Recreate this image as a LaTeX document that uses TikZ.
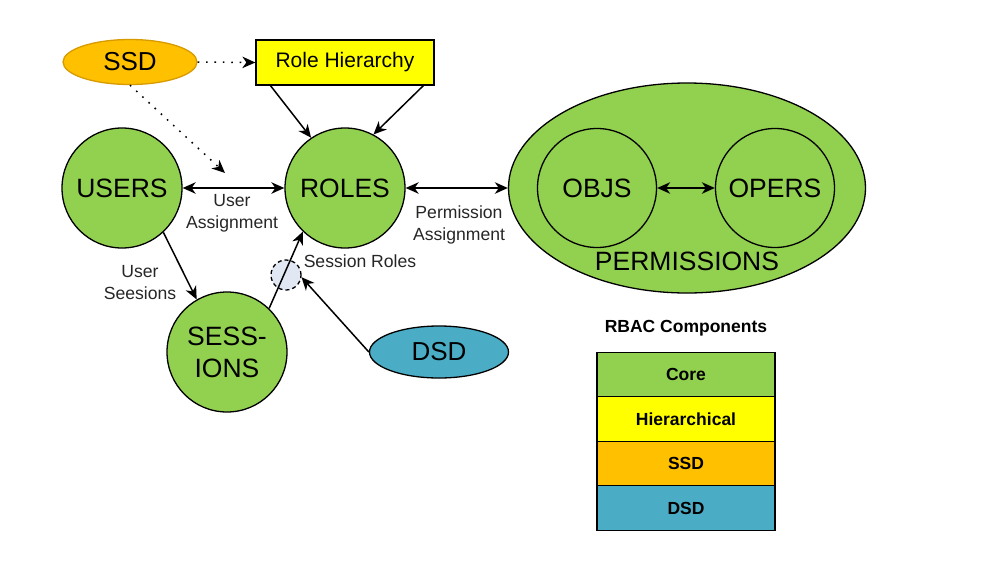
\documentclass[tikz,border=0pt]{standalone}
\usepackage{fontspec}
\setmainfont{Liberation Sans}
\usetikzlibrary{shapes.geometric,arrows.meta}
\definecolor{coregreen}{HTML}{92D050}
\definecolor{hiyellow}{HTML}{FFFF00}
\definecolor{ssdorange}{HTML}{FFC000}
\definecolor{ssdborder}{HTML}{D79B00}
\definecolor{dsdblue}{HTML}{4BACC6}
\definecolor{srfill}{HTML}{E1E8F4}
\tikzset{
  big/.style={font=\fontsize{26.5}{29}\selectfont},
  lbl/.style={font=\fontsize{17.6}{22}\selectfont, align=center, text=black!85},
  circ/.style={circle, draw=black, line width=1.3pt, fill=coregreen, minimum size=120pt, inner sep=0pt, big},
  icirc/.style={circle, draw=black, line width=1.3pt, fill=coregreen, minimum size=119pt, inner sep=0pt, big},
  arr/.style={-{Stealth[length=13pt,width=11.5pt,inset=4pt]}, line width=1.5pt},
  darr/.style={{Stealth[length=13pt,width=11.5pt,inset=4pt]}-{Stealth[length=13pt,width=11.5pt,inset=4pt]}, line width=1.5pt},
  dotarr/.style={arr, dash pattern=on 1.6pt off 6.8pt},
  legrow/.style={draw=black, line width=1.3pt, minimum width=178pt, minimum height=44.5pt, inner sep=0pt, font=\fontsize{17.5}{21}\selectfont\bfseries},
}
\begin{document}
\begin{tikzpicture}[x=1pt,y=-1pt]
\useasboundingbox (0,0) rectangle (998,560);

% top elements
\node[ellipse, draw=ssdborder, line width=1.3pt, fill=ssdorange, minimum width=134pt, minimum height=45pt, inner sep=0pt, font=\fontsize{26}{29}\selectfont] (ssd) at (130,62) {SSD};
\node[rectangle, draw=black, line width=1.3pt, fill=hiyellow, minimum width=178pt, minimum height=45pt, inner sep=0pt, font=\fontsize{21}{25}\selectfont] (rh) at (345,62.5) {Role Hierarchy};

% core circles
\node[circ] (u) at (122,188) {USERS};
\node[circ] (r) at (345,188) {ROLES};
\node[circ, align=center, font=\fontsize{26.5}{32}\selectfont] (s) at (227,352) {SESS-\\IONS};

% permissions
\node[ellipse, draw=black, line width=1.3pt, fill=coregreen, minimum width=357pt, minimum height=210pt, inner sep=0pt] (p) at (687,188) {};
\node[icirc] (ob) at (597,188) {OBJS};
\node[icirc] (op) at (775,188) {OPERS};
\node[big] (ptxt) at (687,261) {PERMISSIONS};

% session roles dashed circle and DSD
\node[circle, draw=black, line width=1.3pt, dash pattern=on 4pt off 3pt, fill=srfill, minimum size=30pt, inner sep=0pt] (dc) at (286,275) {};
\node[ellipse, draw=black, line width=1.3pt, fill=dsdblue, minimum width=139pt, minimum height=52pt, inner sep=0pt, font=\fontsize{26}{29}\selectfont] (d) at (439,352) {DSD};

% connectors
\draw[dotarr] (ssd.east) -- (rh.west);
\coordinate (uaend) at (225,173);
\draw[dotarr] (ssd.south) -- (uaend);
\coordinate (rh1) at (270,85);
\coordinate (rh2) at (424,85);
\draw[arr] (rh1) -- (r.124);
\draw[arr] (rh2) -- (r.62);
\draw[darr] (u.east) -- (r.west);
\draw[darr] (r.east) -- (p.west);
\draw[darr] (ob.east) -- (op.west);
\draw[arr] (u.-47) -- (s.120);
\draw[arr] (s.46) -- (r.-134);
\draw[arr] (d.west) -- (dc.-8);

% labels
\node[lbl] (ualbl) at (232,213) {User\\Assignment};
\node[lbl] (palbl) at (459,225) {Permission\\Assignment};
\node[lbl] (uslbl) at (140,283) {User\\Seesions};
\node[lbl] (srlbl) at (360,261) {Session Roles};

% legend
\node[font=\fontsize{17.5}{21}\selectfont\bfseries] (legt) at (686,328) {RBAC Components};
\node[legrow, fill=coregreen] (l1) at (686,374.5) {Core};
\node[legrow, fill=hiyellow] (l2) at (686,419) {Hierarchical};
\node[legrow, fill=ssdorange] (l3) at (686,463.5) {SSD};
\node[legrow, fill=dsdblue] (l4) at (686,508) {DSD};
\end{tikzpicture}
\end{document}
